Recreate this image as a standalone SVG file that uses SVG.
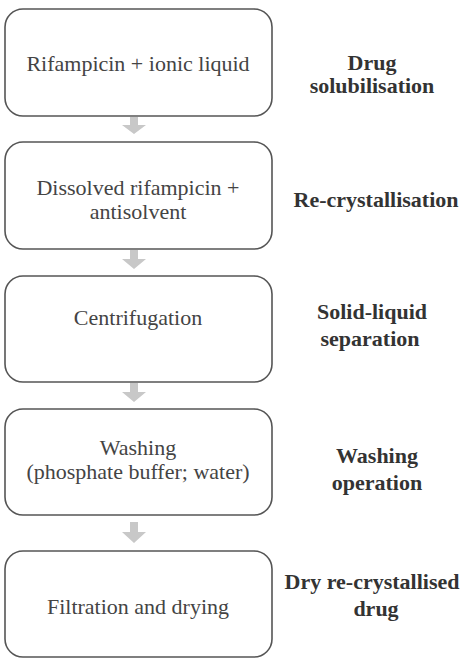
<svg xmlns="http://www.w3.org/2000/svg" width="463" height="660" viewBox="0 0 463 660">
<rect width="463" height="660" fill="#fff"/>
<g id="connectors" fill="#c8c8c8">
<path d="M130,117 h8 v8 h8 l-12,9 l-12,-9 h8 z"/>
<path d="M130,250 h8 v9 h8 l-12,10 l-12,-10 h8 z"/>
<path d="M130,383 h8 v9 h8 l-12,10 l-12,-10 h8 z"/>
<path d="M130,522 h8 v10 h8 l-12,11 l-12,-11 h8 z"/>
</g>
<g id="n1"><text x="138" y="71" font-family="Liberation Serif" font-size="22" fill="#444" text-anchor="middle">Rifampicin + ionic liquid</text><rect x="5" y="9" width="267" height="107" rx="18" fill="none" stroke="#555" stroke-width="1.6"/></g>
<g id="n2"><text x="138" y="195" font-family="Liberation Serif" font-size="22" fill="#444" text-anchor="middle">Dissolved rifampicin +</text><text x="138" y="219" font-family="Liberation Serif" font-size="22" fill="#444" text-anchor="middle">antisolvent</text><rect x="5" y="142" width="267" height="107" rx="18" fill="none" stroke="#555" stroke-width="1.6"/></g>
<g id="n3"><text x="138" y="325" font-family="Liberation Serif" font-size="22" fill="#444" text-anchor="middle">Centrifugation</text><rect x="5" y="276" width="267" height="106" rx="18" fill="none" stroke="#555" stroke-width="1.6"/></g>
<g id="n4"><text x="138" y="455" font-family="Liberation Serif" font-size="22" fill="#444" text-anchor="middle">Washing</text><text x="138" y="479" font-family="Liberation Serif" font-size="22" fill="#444" text-anchor="middle">(phosphate buffer; water)</text><rect x="5" y="409" width="267" height="106" rx="18" fill="none" stroke="#555" stroke-width="1.6"/></g>
<g id="n5"><text x="138" y="614" font-family="Liberation Serif" font-size="22" fill="#444" text-anchor="middle">Filtration and drying</text><rect x="5" y="551" width="267" height="106" rx="18" fill="none" stroke="#555" stroke-width="1.6"/></g>
<g id="labels">
<text x="372" y="70" font-family="Liberation Serif" font-size="22" font-weight="bold" fill="#333" text-anchor="middle">Drug</text>
<text x="372" y="93" font-family="Liberation Serif" font-size="22" font-weight="bold" fill="#333" text-anchor="middle">solubilisation</text>
<text x="376" y="207" font-family="Liberation Serif" font-size="22" font-weight="bold" fill="#333" text-anchor="middle">Re-crystallisation</text>
<text x="372" y="319" font-family="Liberation Serif" font-size="22" font-weight="bold" fill="#333" text-anchor="middle">Solid-liquid</text>
<text x="370" y="346" font-family="Liberation Serif" font-size="22" font-weight="bold" fill="#333" text-anchor="middle">separation</text>
<text x="377" y="463" font-family="Liberation Serif" font-size="22" font-weight="bold" fill="#333" text-anchor="middle">Washing</text>
<text x="377" y="490" font-family="Liberation Serif" font-size="22" font-weight="bold" fill="#333" text-anchor="middle">operation</text>
<text x="372" y="589" font-family="Liberation Serif" font-size="22" font-weight="bold" fill="#333" text-anchor="middle">Dry re-crystallised</text>
<text x="376" y="616" font-family="Liberation Serif" font-size="22" font-weight="bold" fill="#333" text-anchor="middle">drug</text>
</g>
</svg>
